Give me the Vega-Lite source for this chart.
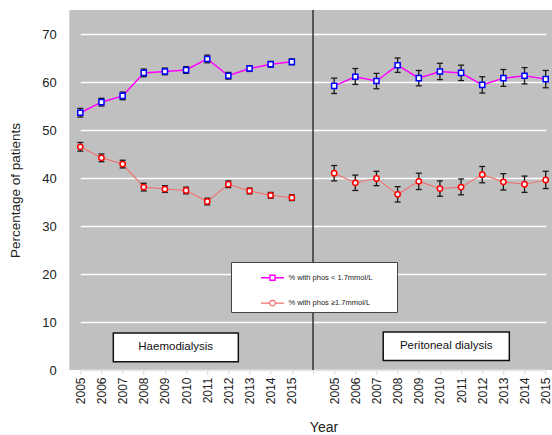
{
  "$schema": "https://vega.github.io/schema/vega-lite/v6.json",
  "width": 482.7,
  "height": 360,
  "autosize": "none",
  "padding": {"left": 69.3, "top": 10, "right": 0, "bottom": 65},
  "background": "white",
  "config": {
    "view": {"fill": "#C0C0C0", "stroke": null},
    "font": "Liberation Sans",
    "axis": {"labelFont": "Liberation Sans", "titleFont": "Liberation Sans", "labelColor": "#222", "titleColor": "#222", "titleFontWeight": "normal"}
  },
  "datasets": {
    "series": [
      {"key": "HD 2005", "panel": "HD", "series": "% with phos < 1.7mmol/L", "value": 53.6, "lo": 52.7, "hi": 54.5},
      {"key": "HD 2006", "panel": "HD", "series": "% with phos < 1.7mmol/L", "value": 55.8, "lo": 55.0, "hi": 56.6},
      {"key": "HD 2007", "panel": "HD", "series": "% with phos < 1.7mmol/L", "value": 57.1, "lo": 56.3, "hi": 57.9},
      {"key": "HD 2008", "panel": "HD", "series": "% with phos < 1.7mmol/L", "value": 61.9, "lo": 61.1, "hi": 62.7},
      {"key": "HD 2009", "panel": "HD", "series": "% with phos < 1.7mmol/L", "value": 62.2, "lo": 61.5, "hi": 62.9},
      {"key": "HD 2010", "panel": "HD", "series": "% with phos < 1.7mmol/L", "value": 62.5, "lo": 61.8, "hi": 63.2},
      {"key": "HD 2011", "panel": "HD", "series": "% with phos < 1.7mmol/L", "value": 64.8, "lo": 64.0, "hi": 65.6},
      {"key": "HD 2012", "panel": "HD", "series": "% with phos < 1.7mmol/L", "value": 61.3, "lo": 60.6, "hi": 62.0},
      {"key": "HD 2013", "panel": "HD", "series": "% with phos < 1.7mmol/L", "value": 62.8, "lo": 62.2, "hi": 63.4},
      {"key": "HD 2014", "panel": "HD", "series": "% with phos < 1.7mmol/L", "value": 63.7, "lo": 63.1, "hi": 64.3},
      {"key": "HD 2015", "panel": "HD", "series": "% with phos < 1.7mmol/L", "value": 64.2, "lo": 63.6, "hi": 64.8},
      {"key": "PD 2005", "panel": "PD", "series": "% with phos < 1.7mmol/L", "value": 59.2, "lo": 57.6, "hi": 60.8},
      {"key": "PD 2006", "panel": "PD", "series": "% with phos < 1.7mmol/L", "value": 61.1, "lo": 59.5, "hi": 62.8},
      {"key": "PD 2007", "panel": "PD", "series": "% with phos < 1.7mmol/L", "value": 60.2, "lo": 58.6, "hi": 61.8},
      {"key": "PD 2008", "panel": "PD", "series": "% with phos < 1.7mmol/L", "value": 63.5, "lo": 62.0, "hi": 65.0},
      {"key": "PD 2009", "panel": "PD", "series": "% with phos < 1.7mmol/L", "value": 60.8, "lo": 59.2, "hi": 62.4},
      {"key": "PD 2010", "panel": "PD", "series": "% with phos < 1.7mmol/L", "value": 62.2, "lo": 60.5, "hi": 63.9},
      {"key": "PD 2011", "panel": "PD", "series": "% with phos < 1.7mmol/L", "value": 61.9, "lo": 60.3, "hi": 63.5},
      {"key": "PD 2012", "panel": "PD", "series": "% with phos < 1.7mmol/L", "value": 59.4, "lo": 57.7, "hi": 61.1},
      {"key": "PD 2013", "panel": "PD", "series": "% with phos < 1.7mmol/L", "value": 60.8, "lo": 59.1, "hi": 62.6},
      {"key": "PD 2014", "panel": "PD", "series": "% with phos < 1.7mmol/L", "value": 61.3, "lo": 59.6, "hi": 63.0},
      {"key": "PD 2015", "panel": "PD", "series": "% with phos < 1.7mmol/L", "value": 60.6, "lo": 58.8, "hi": 62.4},
      {"key": "HD 2005", "panel": "HD", "series": "% with phos ≥1.7mmol/L", "value": 46.5, "lo": 45.6, "hi": 47.4},
      {"key": "HD 2006", "panel": "HD", "series": "% with phos ≥1.7mmol/L", "value": 44.2, "lo": 43.4, "hi": 45.0},
      {"key": "HD 2007", "panel": "HD", "series": "% with phos ≥1.7mmol/L", "value": 42.9, "lo": 42.1, "hi": 43.7},
      {"key": "HD 2008", "panel": "HD", "series": "% with phos ≥1.7mmol/L", "value": 38.1, "lo": 37.3, "hi": 38.9},
      {"key": "HD 2009", "panel": "HD", "series": "% with phos ≥1.7mmol/L", "value": 37.7, "lo": 37.0, "hi": 38.4},
      {"key": "HD 2010", "panel": "HD", "series": "% with phos ≥1.7mmol/L", "value": 37.4, "lo": 36.7, "hi": 38.1},
      {"key": "HD 2011", "panel": "HD", "series": "% with phos ≥1.7mmol/L", "value": 35.1, "lo": 34.4, "hi": 35.8},
      {"key": "HD 2012", "panel": "HD", "series": "% with phos ≥1.7mmol/L", "value": 38.7, "lo": 38.0, "hi": 39.4},
      {"key": "HD 2013", "panel": "HD", "series": "% with phos ≥1.7mmol/L", "value": 37.3, "lo": 36.7, "hi": 37.9},
      {"key": "HD 2014", "panel": "HD", "series": "% with phos ≥1.7mmol/L", "value": 36.4, "lo": 35.8, "hi": 37.0},
      {"key": "HD 2015", "panel": "HD", "series": "% with phos ≥1.7mmol/L", "value": 35.9, "lo": 35.3, "hi": 36.5},
      {"key": "PD 2005", "panel": "PD", "series": "% with phos ≥1.7mmol/L", "value": 41.0, "lo": 39.4, "hi": 42.6},
      {"key": "PD 2006", "panel": "PD", "series": "% with phos ≥1.7mmol/L", "value": 39.0, "lo": 37.4, "hi": 40.6},
      {"key": "PD 2007", "panel": "PD", "series": "% with phos ≥1.7mmol/L", "value": 39.9, "lo": 38.4, "hi": 41.4},
      {"key": "PD 2008", "panel": "PD", "series": "% with phos ≥1.7mmol/L", "value": 36.6, "lo": 35.0, "hi": 38.2},
      {"key": "PD 2009", "panel": "PD", "series": "% with phos ≥1.7mmol/L", "value": 39.3, "lo": 37.6, "hi": 41.0},
      {"key": "PD 2010", "panel": "PD", "series": "% with phos ≥1.7mmol/L", "value": 37.8, "lo": 36.2, "hi": 39.4},
      {"key": "PD 2011", "panel": "PD", "series": "% with phos ≥1.7mmol/L", "value": 38.1, "lo": 36.5, "hi": 39.8},
      {"key": "PD 2012", "panel": "PD", "series": "% with phos ≥1.7mmol/L", "value": 40.7, "lo": 39.0, "hi": 42.4},
      {"key": "PD 2013", "panel": "PD", "series": "% with phos ≥1.7mmol/L", "value": 39.2, "lo": 37.5, "hi": 40.9},
      {"key": "PD 2014", "panel": "PD", "series": "% with phos ≥1.7mmol/L", "value": 38.7, "lo": 37.0, "hi": 40.4},
      {"key": "PD 2015", "panel": "PD", "series": "% with phos ≥1.7mmol/L", "value": 39.6, "lo": 37.8, "hi": 41.4}
    ],
    "boxes": [
      {"label": "Haemodialysis", "x1": 1.56, "x2": 7.47, "y1": 1.73, "y2": 7.71, "xm": 4.51, "ym": 4.72},
      {"label": "Peritoneal dialysis", "x1": 14.32, "x2": 20.28, "y1": 2.0, "y2": 7.92, "xm": 17.3, "ym": 4.96}
    ]
  },
  "resolve": {"scale": {"x": "independent"}},
  "layer": [
    {
      "data": {"name": "series"},
      "encoding": {
        "x": {
          "field": "key", "type": "ordinal",
          "scale": {"type": "point", "padding": 0, "range": [11, 476.4],
            "domain": ["HD 2005","HD 2006","HD 2007","HD 2008","HD 2009","HD 2010","HD 2011","HD 2012","HD 2013","HD 2014","HD 2015","gap","PD 2005","PD 2006","PD 2007","PD 2008","PD 2009","PD 2010","PD 2011","PD 2012","PD 2013","PD 2014","PD 2015"]},
          "axis": {
            "title": "Year", "labelAngle": 270, "labelFontSize": 12, "labelPadding": 3,
            "labelExpr": "datum.value == 'gap' ? '' : substring(datum.value, 3)",
            "tickColor": "#d4d4d4", "tickSize": 4, "domainColor": "#e4e4e4", "domainWidth": 1.5, "grid": false,
            "titleFontSize": 14, "titleX": 254.2, "titleY": 61.7, "titleBaseline": "alphabetic"
          }
        },
        "y": {
          "field": "value", "type": "quantitative",
          "scale": {"domain": [0, 75], "nice": false},
          "axis": {
            "title": "Percentage of patients", "values": [0,10,20,30,40,50,60,70],
            "domain": false, "ticks": false, "grid": true, "gridColor": "white", "gridWidth": 1.4,
            "labelFontSize": 13, "labelPadding": 13, "titleFontSize": 13.5, "titlePadding": 19
          }
        }
      },
      "layer": [
        {
          "mark": {"type": "line"},
          "encoding": {
            "detail": {"field": "panel"},
            "strokeWidth": {"field": "series", "type": "nominal", "scale": {"domain": ["% with phos < 1.7mmol/L", "% with phos ≥1.7mmol/L"], "range": [1.5, 1.1]}, "legend": null},
            "color": {
              "field": "series", "type": "nominal",
              "scale": {"domain": ["% with phos < 1.7mmol/L", "% with phos ≥1.7mmol/L"], "range": ["#FF00FF", "#F07070"]},
              "legend": {
                "orient": "none", "legendX": 161.7, "legendY": 252,
                "title": " ", "titleOrient": "right", "titlePadding": 21, "titleFontSize": 8,
                "padding": 3.3, "fillColor": "white", "strokeColor": "#444",
                "symbolType": "M-1,0H-0.22M0.22,0H1M-0.22,-0.22H0.22V0.22H-0.22Z", "symbolSize": 529, "symbolStrokeWidth": 1.2,
                "symbolFillColor": "white",
                "symbolOffset": 25.7, "labelOffset": 3.4, "labelFontSize": 7.5, "labelColor": "#222",
                "labelFont": "Liberation Sans", "rowPadding": 6.3,
                "encode": {"symbols": {"update": {
                  "shape": {"signal": "datum.value === '% with phos < 1.7mmol/L' ? 'M-1,0H-0.22M0.22,0H1M-0.22,-0.22H0.22V0.22H-0.22Z' : 'M-1,0H-0.24M0.24,0H1M-0.24,0A0.24,0.24 0 1,1 0.24,0A0.24,0.24 0 1,1 -0.24,0Z'"},
                  "fill": {"value": "white"},
                  "strokeWidth": {"value": 1.2}
                }}}
              }
            }
          }
        },
        {
          "mark": {"type": "rule", "color": "#1a1a1a", "strokeWidth": 1.3},
          "encoding": {"y": {"field": "lo", "type": "quantitative", "axis": {"title": "Percentage of patients"}}, "y2": {"field": "hi"}}
        },
        {
          "mark": {"type": "tick", "color": "#1a1a1a", "thickness": 1.3, "size": 6, "opacity": 1},
          "encoding": {"y": {"field": "lo", "type": "quantitative", "axis": {"title": "Percentage of patients"}}}
        },
        {
          "mark": {"type": "tick", "color": "#1a1a1a", "thickness": 1.3, "size": 6, "opacity": 1},
          "encoding": {"y": {"field": "hi", "type": "quantitative", "axis": {"title": "Percentage of patients"}}}
        },
        {
          "transform": [{"filter": "datum.series === '% with phos < 1.7mmol/L'"}],
          "mark": {"type": "point", "shape": "square", "filled": true, "fill": "white", "stroke": "#0000FF", "strokeWidth": 1.5, "size": 26, "opacity": 1}
        },
        {
          "transform": [{"filter": "datum.series !== '% with phos < 1.7mmol/L'"}],
          "mark": {"type": "point", "shape": "circle", "filled": true, "fill": "white", "stroke": "#FF0000", "strokeWidth": 1.5, "size": 28, "opacity": 1}
        },
        {
          "data": {"values": [{}]},
          "mark": {"type": "rule", "color": "#333", "strokeWidth": 1.5},
          "encoding": {"x": {"datum": "gap"}, "y": null}
        }
      ]
    },
    {
      "data": {"name": "boxes"},
      "layer": [
        {
          "mark": {"type": "rect", "fill": "white", "stroke": "#111", "strokeWidth": 1.5},
          "encoding": {
            "x": {"field": "x1", "type": "quantitative", "scale": {"domain": [0, 22], "range": [11, 476.4]}, "axis": null},
            "x2": {"field": "x2"},
            "y": {"field": "y1", "type": "quantitative", "axis": {"title": "Percentage of patients"}},
            "y2": {"field": "y2"}
          }
        },
        {
          "mark": {"type": "text", "fontSize": 11.5, "color": "#111", "align": "center", "baseline": "middle", "font": "Liberation Sans"},
          "encoding": {
            "x": {"field": "xm", "type": "quantitative", "scale": {"domain": [0, 22], "range": [11, 476.4]}, "axis": null},
            "y": {"field": "ym", "type": "quantitative", "axis": {"title": "Percentage of patients"}},
            "text": {"field": "label"}
          }
        }
      ]
    }
  ]
}
